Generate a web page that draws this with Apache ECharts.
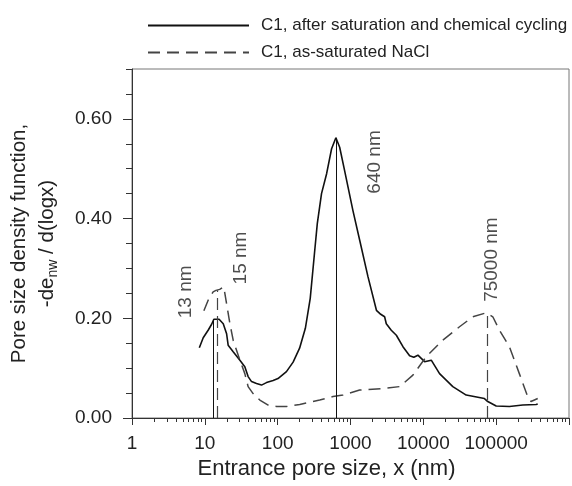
<!DOCTYPE html>
<html>
<head>
<meta charset="utf-8">
<script src="https://cdn.jsdelivr.net/npm/echarts@6/dist/echarts.min.js"></script>
<style>
  html, body { margin: 0; padding: 0; background: #fff; }
  #chart { width: 572px; height: 486px; }
</style>
</head>
<body>
<div id="chart"></div>
<script>
// pore size (nm) and density values
const cyclingX = [8.4, 9.5, 11.1, 12.4, 13.3, 15.7, 17.9, 19.9, 20.9, 24.5, 30.3, 35.4, 39.3, 43.8, 51.2, 60, 70.2, 86.6, 101, 132, 163, 200, 240, 280, 320, 350, 400, 470, 550, 630, 710, 830, 1080, 1340, 1740, 2270, 2600, 2940, 3100, 3630, 4260, 5250, 6480, 7400, 8430, 10400, 12850, 16700, 25400, 38800, 69000, 76700, 100000, 152000, 232000, 353000, 372000]
const cyclingY = [0.141, 0.161, 0.176, 0.188, 0.198, 0.198, 0.189, 0.169, 0.146, 0.133, 0.116, 0.103, 0.083, 0.073, 0.069, 0.066, 0.071, 0.075, 0.079, 0.093, 0.112, 0.14, 0.18, 0.24, 0.33, 0.39, 0.45, 0.49, 0.54, 0.562, 0.543, 0.496, 0.416, 0.356, 0.283, 0.216, 0.208, 0.203, 0.189, 0.176, 0.166, 0.143, 0.125, 0.122, 0.126, 0.113, 0.116, 0.089, 0.063, 0.046, 0.039, 0.033, 0.024, 0.023, 0.026, 0.027, 0.028]

const naclX = [9.7, 11.1, 13, 14.2, 16, 18.2, 19.9, 22.1, 24.5, 30.3, 35.4, 39.3, 46, 56.9, 74, 96.4, 132, 201, 378, 575, 789, 1335, 2790, 4730, 7190, 10970, 18500, 31400, 47800, 72900, 89900, 111000, 152000, 208000, 271000, 301000, 372000]
const naclY = [0.215, 0.236, 0.253, 0.256, 0.258, 0.263, 0.229, 0.189, 0.156, 0.116, 0.089, 0.063, 0.049, 0.036, 0.026, 0.023, 0.023, 0.027, 0.036, 0.043, 0.046, 0.056, 0.059, 0.063, 0.086, 0.123, 0.156, 0.183, 0.203, 0.211, 0.203, 0.176, 0.143, 0.089, 0.043, 0.033, 0.039]

// peak markers: [x nm, height]
const cyclingPeaks = [[13, 0.198], [640, 0.562]]
const naclPeaks = [[15, 0.256], [75000, 0.211]]

// rotated peak labels: [x nm, y at text start, text]
const peakLabels = [[5.5, 0.2, '13 nm'], [31, 0.268, '15 nm'], [2170, 0.45, '640 nm'], [86000, 0.233, '75000 nm']]

const yLabelValues = [0, 0.2, 0.4, 0.6]

const FONT = '"Liberation Sans", Arial, Helvetica, sans-serif'
const TXT = '#222'

function toLog(xs, ys) {
  return xs.map((x, i) => [Math.log10(x), ys[i]])
}
function peakLines(list) {
  return list.map(p => [
    { coord: [Math.log10(p[0]), 0] },
    { coord: [Math.log10(p[0]), p[1]] }
  ])
}

const minorTicks = []
for (let d = 0; d < 6; d++) {
  for (let k = 2; k <= 9; k++) {
    minorTicks.push(Math.log10(k * Math.pow(10, d)))
  }
}

const chart = echarts.init(document.getElementById('chart'))

const option = {
  animation: false,
  textStyle: { fontFamily: FONT, color: TXT },
  legend: {
    orient: 'vertical',
    left: 142,
    top: 12,
    itemWidth: 101,
    itemHeight: 14,
    itemGap: 10,
    itemStyle: { opacity: 0 },
    data: ['C1, after saturation and chemical cycling', 'C1, as-saturated NaCl'],
    textStyle: { fontFamily: FONT, fontSize: 17, color: TXT, padding: [0, 0, 0, 7] }
  },
  grid: {
    left: 132,
    right: 3,
    top: 69,
    bottom: 68,
    containLabel: false,
    outerBoundsMode: 'none',
    show: true,
    borderColor: '#777',
    borderWidth: 1
  },
  xAxis: [
    {
      type: 'value',
      min: 0,
      max: 6,
      interval: 1,
      name: 'Entrance pore size, x (nm)',
      nameLocation: 'middle',
      nameGap: 40,
      nameTextStyle: { fontFamily: FONT, fontSize: 22, color: TXT, padding: [0, 48, 0, 0] },
      axisLine: { show: true, lineStyle: { color: '#333', width: 1 } },
      axisTick: { show: true, length: 7, lineStyle: { color: '#333' } },
      axisLabel: {
        fontFamily: FONT,
        fontSize: 19,
        color: TXT,
        margin: 16,
        formatter: function (v) {
          if (v > 5) return ''
          return String(Math.round(Math.pow(10, v)))
        }
      },
      splitLine: { show: false }
    },
    {
      type: 'value',
      min: 0,
      max: 6,
      position: 'bottom',
      axisLine: { show: false },
      axisTick: { show: true, length: 4, customValues: minorTicks, lineStyle: { color: '#333' } },
      axisLabel: { show: false },
      splitLine: { show: false }
    }
  ],
  yAxis: [
    {
      type: 'value',
      min: 0,
      max: 0.7,
      interval: 0.05,
      name: '{a|Pore size density function,}\n{a|-de}{s|nw}{a| / d(logx)}',
      nameLocation: 'middle',
      nameGap: 71,
      nameRotate: 90,
      nameTextStyle: {
        rich: {
          a: { fontFamily: FONT, fontSize: 20.5, color: TXT, lineHeight: 28 },
          s: { fontFamily: FONT, fontSize: 14, color: TXT, lineHeight: 28, padding: [12, 0, 0, 0] }
        }
      },
      axisLine: { show: true, lineStyle: { color: '#333', width: 1 } },
      axisTick: { show: true, length: 6, lineStyle: { color: '#333' } },
      axisLabel: {
        fontFamily: FONT,
        fontSize: 19,
        color: TXT,
        margin: 20,
        formatter: function (v) {
          const r = Math.round(v * 100)
          if (r % 20 !== 0 || r > 60) return ''
          return (r / 100).toFixed(2)
        }
      },
      splitLine: { show: false }
    },
    {
      type: 'value',
      min: 0,
      max: 0.7,
      position: 'left',
      axisLine: { show: false },
      axisTick: { show: true, length: 9, customValues: yLabelValues, lineStyle: { color: '#333' } },
      axisLabel: { show: false },
      splitLine: { show: false }
    }
  ],
  series: [
    {
      name: 'C1, after saturation and chemical cycling',
      type: 'line',
      data: toLog(cyclingX, cyclingY),
      showSymbol: false,
      symbol: 'none',
      lineStyle: { color: '#111', width: 1.6 },
      itemStyle: { color: '#111' },
      markLine: {
        silent: true,
        symbol: 'none',
        label: { show: false },
        lineStyle: { color: '#111', width: 1, type: 'solid' },
        data: peakLines(cyclingPeaks)
      }
    },
    {
      name: 'C1, as-saturated NaCl',
      type: 'line',
      data: toLog(naclX, naclY),
      showSymbol: false,
      symbol: 'none',
      lineStyle: { color: '#444', width: 1.5, type: [12, 7] },
      itemStyle: { color: '#444' },
      markLine: {
        silent: true,
        symbol: 'none',
        label: { show: false },
        lineStyle: { color: '#444', width: 1.2, type: [12, 6] },
        data: peakLines(naclPeaks)
      }
    },
    {
      name: 'labels',
      type: 'scatter',
      silent: true,
      symbolSize: 0,
      data: peakLabels.map(p => [Math.log10(p[0]), p[1], p[2]]),
      label: {
        show: true,
        position: [0, 0],
        rotate: 90,
        align: 'left',
        verticalAlign: 'middle',
        fontFamily: FONT,
        fontSize: 19,
        color: TXT,
        formatter: function (p) { return p.data[2] }
      }
    }
  ]
}

chart.setOption(option)
</script>
</body>
</html>
